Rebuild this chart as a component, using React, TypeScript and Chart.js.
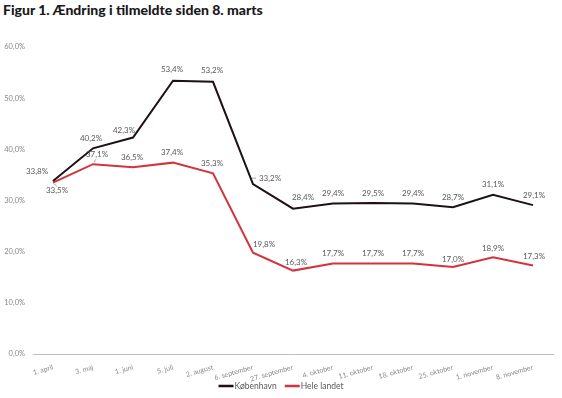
import React, { useEffect, useRef } from "react";
import { Chart, registerables } from "chart.js";

Chart.register(...registerables);

const categories = [
  "1. april", "3. maj", "1. juni", "5. juli", "2. august", "6. september",
  "27. september", "4. oktober", "11. oktober", "18. oktober", "25. oktober",
  "1. november", "8. november",
];
const kobenhavn = [33.8, 40.2, 42.3, 53.4, 53.2, 33.2, 28.4, 29.4, 29.5, 29.4, 28.7, 31.1, 29.1];
const heleLandet = [33.5, 37.1, 36.5, 37.4, 35.3, 19.8, 16.3, 17.7, 17.7, 17.7, 17.0, 18.9, 17.3];
const yTicks = [0, 10, 20, 30, 40, 50, 60];

// label placement offsets (dx, dy) relative to each point
const kbhLabelOffsets: [number, number][] = [
  [-16, -10], [-2, -10], [-9, -7], [-1, -11], [-1, -11], [17, -6], [10, -11],
  [0, -10], [0, -10], [0, -10], [0, -10], [0, -10], [1, -10],
];
const heleLabelOffsets: [number, number][] = [
  [4, 8], [4, -10], [-1, -10], [-1, -10], [-1, -10], [11, -8], [3, -8],
  [0, -10], [0, -10], [0, -10], [0, -8], [0, -9], [1, -9],
];

const fmt = (v: number) => v.toFixed(1).replace(".", ",") + "%";

const FONT = "Lato, 'Open Sans', sans-serif";

const labelPlugin = {
  id: "valueLabels",
  afterDatasetsDraw(chart: any) {
    const ctx = chart.ctx;
    const offsetsList = [kbhLabelOffsets, heleLabelOffsets];
    ctx.save();
    ctx.font = `8px ${FONT}`;
    ctx.fillStyle = "#595959";
    ctx.textAlign = "center";
    ctx.textBaseline = "middle";
    chart.data.datasets.forEach((ds: any, di: number) => {
      const meta = chart.getDatasetMeta(di);
      meta.data.forEach((pt: any, i: number) => {
        const [dx, dy] = offsetsList[di][i];
        const text = fmt(ds.data[i]);
        ctx.fillText(text, pt.x + dx, pt.y + dy);
      });
    });
    // leader lines
    ctx.strokeStyle = "#8c8c8c";
    ctx.lineWidth = 0.8;
    const k5 = chart.getDatasetMeta(0).data[5];
    if (k5) {
      ctx.beginPath();
      ctx.moveTo(k5.x - 1, k5.y - 6);
      ctx.lineTo(k5.x + 3, k5.y - 6);
      ctx.stroke();
    }
    const h0 = chart.getDatasetMeta(1).data[0];
    if (h0) {
      ctx.beginPath();
      ctx.moveTo(h0.x + 1, h0.y + 1);
      ctx.lineTo(h0.x + 4, h0.y + 4);
      ctx.stroke();
    }
    const h1 = chart.getDatasetMeta(1).data[1];
    if (h1) {
      ctx.beginPath();
      ctx.moveTo(h1.x + 1, h1.y - 2);
      ctx.lineTo(h1.x + 3, h1.y - 5);
      ctx.stroke();
    }
    ctx.restore();
  },
};

const legendPlugin = {
  id: "lineLegend",
  afterDraw(chart: any) {
    const ctx = chart.ctx;
    ctx.save();
    ctx.font = `8.5px ${FONT}`;
    ctx.textBaseline = "middle";
    ctx.textAlign = "left";
    const items = chart.data.datasets.map((ds: any) => ({
      label: ds.label,
      color: ds.borderColor,
      w: ctx.measureText(ds.label).width,
    }));
    const sw = 15, gap1 = 1, gap2 = 8;
    let total = 0;
    items.forEach((it: any, i: number) => {
      total += sw + gap1 + it.w + (i < items.length - 1 ? gap2 : 0);
    });
    let x = chart.width / 2 - total / 2;
    const y = 386;
    items.forEach((it: any) => {
      ctx.fillStyle = it.color;
      ctx.fillRect(x, y - 1.25, sw, 2.5);
      ctx.fillStyle = "#595959";
      ctx.fillText(it.label, x + sw + gap1, y);
      x += sw + gap1 + it.w + gap2;
    });
    ctx.restore();
  },
};

export default function App() {
  const ref = useRef<HTMLCanvasElement>(null);
  useEffect(() => {
    if (!ref.current) return;
    const chart = new Chart(ref.current, {
      type: "line",
      data: {
        labels: categories,
        datasets: [
          {
            label: "København",
            data: kobenhavn,
            borderColor: "#1f1011",
            backgroundColor: "#1f1011",
            borderWidth: 2,
            pointRadius: 0,
            tension: 0,
          },
          {
            label: "Hele landet",
            data: heleLandet,
            borderColor: "#d3323e",
            backgroundColor: "#d3323e",
            borderWidth: 2,
            pointRadius: 0,
            tension: 0,
          },
        ],
      },
      options: {
        animation: false,
        responsive: false,
        maintainAspectRatio: false,
        layout: { padding: { top: 47, right: 9, bottom: 0, left: 0 } },
        plugins: {
          title: { display: false },
          tooltip: { enabled: false },
          legend: { display: false },
        },
        scales: {
          x: {
            offset: true,
            grid: { display: false, drawTicks: false },
            border: { display: true, color: "#bdbdbd", width: 1 },
            afterFit: (s: any) => { s.height = 44; },
            ticks: {
              autoSkip: false,
              minRotation: 16,
              maxRotation: 16,
              padding: 9,
              color: "#8a8a8a",
              font: { family: FONT, size: 7 },
            },
          },
          y: {
            min: 0,
            max: 60,
            grid: { display: false, drawTicks: false },
            border: { display: false },
            afterFit: (s: any) => { s.width = 33; },
            afterBuildTicks: (s: any) => { s.ticks = yTicks.map((v) => ({ value: v })); },
            ticks: {
              padding: 8,
              color: "#8a8a8a",
              font: { family: FONT, size: 7.5 },
              callback: (v: any) => fmt(Number(v)),
            },
          },
        },
      },
      plugins: [labelPlugin, legendPlugin],
    });
    return () => chart.destroy();
  }, []);

  return (
    <div style={{ position: "fixed", left: 0, top: 0, width: 562, height: 398, background: "#fff" }}>
      <div
        style={{
          position: "absolute",
          left: 3,
          top: 1,
          fontFamily: FONT,
          fontWeight: 900,
          fontSize: 14,
          color: "#1a1a1a",
          whiteSpace: "nowrap",
        }}
      >
        Figur 1. Ændring i tilmeldte siden 8. marts
      </div>
      <canvas ref={ref} width={562} height={398} style={{ position: "absolute", left: 0, top: 0 }} />
    </div>
  );
}
